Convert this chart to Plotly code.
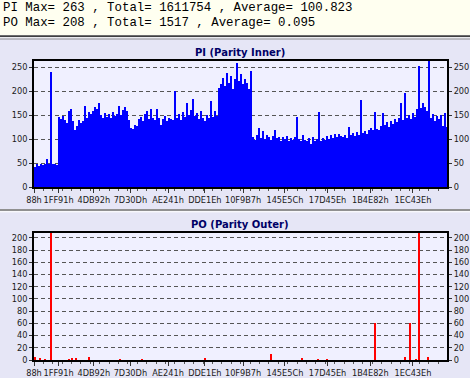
import numpy as np
import plotly.graph_objects as go

# ---------------- data ----------------
header_lines = [
    "PI Max= 263 , Total= 1611754 , Average= 100.823",
    "PO Max= 208 , Total= 1517 , Average= 0.095",
]
tick_labels = ["88h", "1FF91h", "4DB92h", "7D30Dh", "AE241h", "DDE1Eh",
               "10F9B7h", "145E5Ch", "17D45Eh", "1B4E82h", "1EC43Eh"]
lba_start = 0x88
lba_end = 2197296
pi_bin = 10640

pi_values = [
    42, 47, 44, 49, 46, 48, 58, 49, 240, 47, 49, 45,
    146, 141, 148, 139, 133, 158, 162, 138, 120, 127, 140, 133, 137, 170, 145, 157,
    152, 158, 168, 162, 176, 150, 143, 155, 147, 152, 144, 156, 149, 153, 169, 150,
    160, 166, 158, 140, 124, 122, 130, 127, 142, 147, 138, 152, 158, 141, 162, 145,
    139, 163, 144, 130, 142, 148, 137, 145, 141, 139, 200, 143, 152, 140, 157, 146,
    176, 150, 160, 183, 148, 155, 141, 158, 145, 138, 150, 143, 179, 147, 158, 149,
    206, 214, 228, 210, 238, 218, 232, 205, 226, 258, 222, 236, 214, 226, 218, 205,
    242, 104, 98, 108, 123, 103, 116, 101, 108, 104, 99, 106, 120, 102, 105, 97,
    104, 100, 107, 96, 103, 99, 105, 146, 101, 97, 108, 99, 95, 102, 89, 104,
    97, 101, 157, 96, 103, 99, 106, 101, 108, 103, 110, 105, 111, 106, 104, 108,
    102, 126, 109, 112, 106, 114, 108, 182, 113, 117, 111, 120, 124, 119, 157, 122,
    118, 128, 155, 129, 135, 126, 138, 132, 141, 136, 145, 176, 140, 196, 143, 150,
    141, 155, 147, 162, 253, 165, 176, 168, 159, 263, 145, 152, 138, 149, 141, 150,
    128, 155, 125,
]

po_lba = [5456, 32056, 58656, 90576, 186336, 202296, 223576, 292736, 457656,
          574696, 909856, 1260976, 1425896, 1511016, 1558896, 1814256, 1973856,
          2000456, 2032376, 2048336, 2096216]
po_values = [5, 3, 2, 208, 2, 3, 3, 5, 2, 2, 3, 10, 3, 2, 2, 60, 5, 60, 1, 208, 5]

pi_max = 263
po_max = 208
pi_ticks = [0, 50, 100, 150, 200, 250]
po_ticks = [0, 20, 40, 60, 80, 100, 120, 140, 160, 180, 200]
# --------------------------------------

W, H = 470, 378
def fx(p):
    return p / W
def fy(p):
    return 1 - p / H

tickvals = [int(t[:-1], 16) for t in tick_labels]
pi_x = lba_start + (np.arange(len(pi_values)) + 0.5) * pi_bin
sec_per_px = (lba_end - lba_start) / 413.0

PANEL = "#E6E6F6"
PLOT = "#F0F0FF"
TXT = "#1a1a1a"
tick_font = dict(family="DejaVu Sans", size=8.2, color=TXT)

fig = go.Figure()
fig.add_trace(go.Bar(x=pi_x, y=pi_values, width=pi_bin, marker=dict(color="#0000FF", line=dict(width=0)),
                     xaxis="x", yaxis="y", showlegend=False, hoverinfo="skip"))
fig.add_trace(go.Scatter(x=[None], y=[None], xaxis="x", yaxis="y3", showlegend=False, hoverinfo="skip"))
fig.add_trace(go.Bar(x=po_lba, y=po_values, width=sec_per_px * 1.4, marker=dict(color="#FF0000", line=dict(width=0)),
                     xaxis="x2", yaxis="y2", showlegend=False, hoverinfo="skip"))
fig.add_trace(go.Scatter(x=[None], y=[None], xaxis="x2", yaxis="y4", showlegend=False, hoverinfo="skip"))

xdom = [fx(34), fx(447)]
xcommon = dict(range=[lba_start, lba_end], tickmode="array", tickvals=tickvals, ticktext=tick_labels,
               tickangle=0, automargin=False,
               showgrid=False, zeroline=False, showline=True, linecolor="black", linewidth=2,
               mirror=True, ticks="outside", ticklen=4, tickcolor="#333333", tickfont=tick_font,
               minor=dict(ticks="outside", ticklen=2, dtick=50000, tick0=lba_start, tickcolor="#555555"),
               fixedrange=True)
ycommon = dict(zeroline=False, showline=True, linecolor="black", linewidth=2, ticks="outside",
               ticklen=3, tickcolor="#333333", tickfont=tick_font, fixedrange=True, automargin=False)

fig.update_layout(
    width=W, height=H, margin=dict(l=0, r=0, t=0, b=0, autoexpand=False),
    paper_bgcolor=PANEL, plot_bgcolor=PLOT, bargap=0,
    xaxis=dict(domain=xdom, anchor="y", **xcommon),
    xaxis2=dict(domain=xdom, anchor="y2", **xcommon),
    yaxis=dict(domain=[fy(187), fy(61)], anchor="x", range=[0, pi_max], tickvals=pi_ticks,
               showgrid=True, gridcolor="#555555", griddash="4px,3px", gridwidth=1, mirror=True, **ycommon),
    yaxis3=dict(overlaying="y", side="right", anchor="x", range=[0, pi_max], tickvals=pi_ticks,
                showgrid=False, **ycommon),
    yaxis2=dict(domain=[fy(360), fy(233)], anchor="x2", range=[0, po_max], tickvals=po_ticks,
                showgrid=True, gridcolor="#555555", griddash="4px,3px", gridwidth=1, mirror=True, **ycommon),
    yaxis4=dict(overlaying="y2", side="right", anchor="x2", range=[0, po_max], tickvals=po_ticks,
                showgrid=False, **ycommon),
)

shapes = [
    dict(type="rect", xref="paper", yref="paper", x0=0, x1=1, y0=fy(35.5), y1=1,
         fillcolor="#FFFFF0", line=dict(width=0), layer="below"),
    dict(type="line", xref="paper", yref="paper", x0=0, x1=1, y0=fy(36.3), y1=fy(36.3),
         line=dict(color="#404040", width=2)),
    dict(type="line", xref="paper", yref="paper", x0=0, x1=1, y0=fy(37.8), y1=fy(37.8),
         line=dict(color="#FFFFFF", width=1)),
    dict(type="line", xref="paper", yref="paper", x0=0, x1=1, y0=fy(39), y1=fy(39),
         line=dict(color="#8C8C8C", width=1)),
    dict(type="line", xref="paper", yref="paper", x0=0, x1=1, y0=fy(210), y1=fy(210),
         line=dict(color="#909090", width=2)),
    dict(type="line", xref="paper", yref="paper", x0=0, x1=1, y0=fy(211.8), y1=fy(211.8),
         line=dict(color="#FFFFFF", width=1)),
]
fig.update_layout(shapes=shapes)

annots = []
for i, line in enumerate(header_lines):
    annots.append(dict(text=line, xref="paper", yref="paper", x=fx(2), y=fy(0.3 + 14.6 * i),
                       xanchor="left", yanchor="top", showarrow=False, borderpad=0,
                       font=dict(family="Liberation Mono", size=12.4, color="#000000")))
annots.append(dict(text="<b>PI (Parity Inner)</b>", xref="paper", yref="paper", x=fx(240), y=fy(52),
                   xanchor="center", yanchor="middle", showarrow=False,
                   font=dict(family="DejaVu Sans", size=10, color="#000066")))
annots.append(dict(text="<b>PO (Parity Outer)</b>", xref="paper", yref="paper", x=fx(240), y=fy(224),
                   xanchor="center", yanchor="middle", showarrow=False,
                   font=dict(family="DejaVu Sans", size=10, color="#000066")))
fig.update_layout(annotations=annots)

fig.write_html("out.html", config={"displayModeBar": False, "staticPlot": True},
               post_script="document.body.style.margin='0';document.body.style.overflow='hidden';")
